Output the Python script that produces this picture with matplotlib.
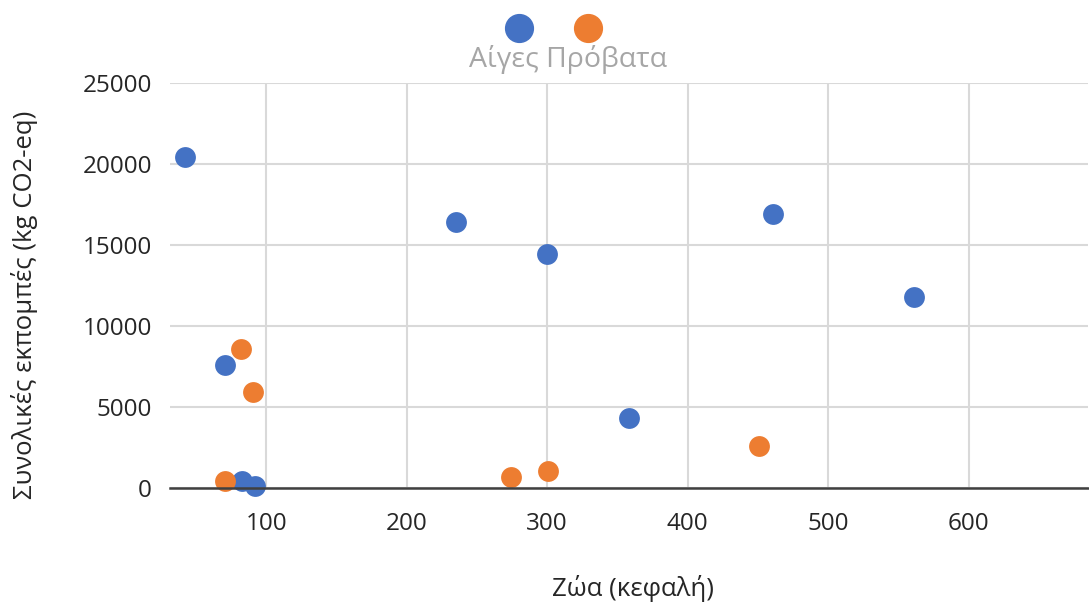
import matplotlib
matplotlib.use("Agg")
import matplotlib.pyplot as plt

plt.rcParams['font.family'] = ['Open Sans', 'DejaVu Sans']

# animals (heads) vs total emissions (kg CO2-eq)
goats_x = [42, 235, 300, 461, 561, 71, 358, 83, 92]
goats_y = [20400, 16400, 14450, 16900, 11800, 7600, 4320, 430, 120]
sheep_x = [82, 91, 71, 274, 301, 451]
sheep_y = [8580, 5930, 430, 680, 1050, 2590]

series_names = ["Αίγες", "Πρόβατα"]
blue = "#4472c4"
orange = "#ed7d31"

W, H = 1089, 605
fig = plt.figure(figsize=(W / 100, H / 100), dpi=100)
ax = fig.add_axes([0.156, 0.193, 0.843, 0.670])

ax.scatter(goats_x, goats_y, s=225, color=blue, linewidths=0, zorder=3, clip_on=False)
ax.scatter(sheep_x, sheep_y, s=225, color=orange, linewidths=0, zorder=3, clip_on=False)

ax.set_xlim(31.5, 685)
ax.set_ylim(0, 25000)
ax.set_xticks([100, 200, 300, 400, 500, 600])
ax.set_yticks([0, 5000, 10000, 15000, 20000, 25000])
ax.grid(True, color="#d9d9d9", linewidth=1.5)
ax.set_axisbelow(True)

for side in ["top", "right", "left"]:
    ax.spines[side].set_visible(False)
ax.spines["bottom"].set_color("#404040")
ax.spines["bottom"].set_linewidth(1.8)
ax.spines["bottom"].set_zorder(4)

ax.tick_params(axis="both", length=0, labelsize=17.5, colors="#262626")
ax.tick_params(axis="x", pad=17)
ax.tick_params(axis="y", pad=13)

ax.set_xlabel("Ζώα (κεφαλή)", fontsize=18.5, color="#262626", va="center")
ax.set_ylabel("Συνολικές εκπομπές (kg CO2-eq)", fontsize=18.5, color="#262626",
              va="center", rotation_mode="default")
ax.xaxis.set_label_coords(633 / W, 1 - 589 / H, transform=fig.transFigure)
ax.yaxis.set_label_coords(25 / W, 1 - 305 / H, transform=fig.transFigure)

# legend: two markers above one line of series names
fig.lines.append(plt.Line2D([519 / W], [1 - 28 / H], marker="o", markersize=20,
                            color=blue, linestyle="none", transform=fig.transFigure))
fig.lines.append(plt.Line2D([588 / W], [1 - 28 / H], marker="o", markersize=20,
                            color=orange, linestyle="none", transform=fig.transFigure))
fig.text(568 / W, 1 - 60 / H, " ".join(series_names), fontsize=20.5, color="#a6a6a6",
         ha="center", va="center")

fig.savefig("out.png", dpi=100)
